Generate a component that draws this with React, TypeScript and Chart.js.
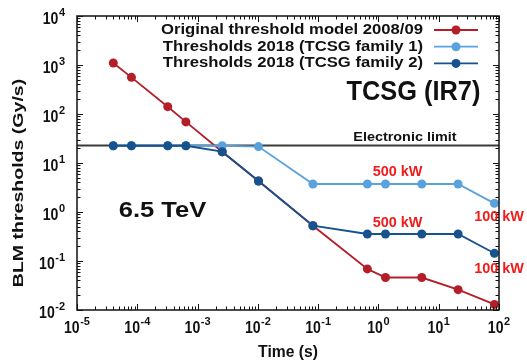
import React, { useEffect, useRef } from "react";
import { Chart, registerables } from "chart.js";

Chart.register(...registerables);

// ---- data ----
const times = [4e-5, 8e-5, 3.2e-4, 6.4e-4, 2.56e-3, 1.024e-2, 8.192e-2, 0.655, 1.31, 5.24, 20.97, 83.89];
const original2008 = [1100, 560, 141, 69, 17, 4.3, 0.525, 0.069, 0.046, 0.046, 0.026, 0.013];
const family1 = [22.5, 22.5, 22.5, 22.5, 22.5, 21.6, 3.73, 3.73, 3.73, 3.73, 3.73, 1.5];
const family2 = [22.5, 22.5, 22.5, 22.5, 17, 4.3, 0.525, 0.356, 0.356, 0.356, 0.356, 0.1435];
const electronicLimit = 22.8;
const limitSpan = [1e-5, 1e2];
const xTickExponents = [-5, -4, -3, -2, -1, 0, 1, 2];
const yTickExponents = [-2, -1, 0, 1, 2, 3, 4];
const seriesLabels = [
  "Original threshold model 2008/09",
  "Thresholds 2018 (TCSG family 1)",
  "Thresholds 2018 (TCSG family 2)",
];
const powerLabels = ["500 kW", "500 kW", "100 kW", "100 kW"];
const powerLabelX = [2.07, 2.07, 100, 100];
const powerLabelY = [6.64, 0.597, 0.773, 0.0687];

const RED = "#b41e28";
const LIGHT = "#5aa2dc";
const DARK = "#15528e";
const FONT = "'Liberation Sans', Arial, Helvetica, sans-serif";

function txt(
  ctx: CanvasRenderingContext2D,
  text: string,
  x: number,
  y: number,
  size: number,
  sx: number,
  align: CanvasTextAlign,
  baseline: CanvasTextBaseline,
  color: string,
  rot = 0
) {
  ctx.save();
  ctx.translate(x, y);
  if (rot) ctx.rotate(rot);
  ctx.scale(sx, 1);
  ctx.font = `bold ${size}px ${FONT}`;
  ctx.textAlign = align;
  ctx.textBaseline = baseline;
  ctx.fillStyle = color;
  ctx.fillText(text, 0, 0);
  ctx.restore();
}

function pow10Label(
  ctx: CanvasRenderingContext2D,
  exp: number,
  x: number,
  baseY: number,
  mode: "center" | "right"
) {
  const base = "10";
  const sup = String(exp);
  const bs = 16, bsx = 0.88, ss = 11;
  ctx.save();
  ctx.font = `bold ${bs}px ${FONT}`;
  const bw = ctx.measureText(base).width * bsx;
  ctx.font = `bold ${ss}px ${FONT}`;
  const sw = ctx.measureText(sup).width;
  ctx.restore();
  const total = bw + sw + 0.5;
  const start = mode === "center" ? x - total / 2 : x - total;
  txt(ctx, base, start, baseY, bs, bsx, "left", "alphabetic", "#111");
  txt(ctx, sup, start + bw + 0.5, baseY - 8.5, ss, 1, "left", "alphabetic", "#111");
}

export default function App() {
  const ref = useRef<HTMLCanvasElement>(null);

  useEffect(() => {
    const canvas = ref.current!;
    const overlay = {
      id: "overlay",
      afterDraw(chart: any) {
        const ctx: CanvasRenderingContext2D = chart.ctx;
        const xs = chart.scales.x;
        const ys = chart.scales.y;
        const a = chart.chartArea;
        // frame
        ctx.save();
        ctx.strokeStyle = "#111";
        ctx.lineWidth = 1.5;
        ctx.strokeRect(a.left, a.top, a.right - a.left, a.bottom - a.top);
        ctx.lineWidth = 1;
        // ticks
        const tick = (v: number, isX: boolean, len: number) => {
          if (isX) {
            const p = Math.round(xs.getPixelForValue(v)) + 0.5;
            ctx.beginPath();
            ctx.moveTo(p, a.bottom); ctx.lineTo(p, a.bottom - len);
            ctx.moveTo(p, a.top); ctx.lineTo(p, a.top + len);
            ctx.stroke();
          } else {
            const p = Math.round(ys.getPixelForValue(v)) + 0.5;
            ctx.beginPath();
            ctx.moveTo(a.left, p); ctx.lineTo(a.left + len, p);
            ctx.moveTo(a.right, p); ctx.lineTo(a.right - len, p);
            ctx.stroke();
          }
        };
        for (let i = 0; i < xTickExponents.length; i++) {
          const e = xTickExponents[i];
          tick(Math.pow(10, e), true, 6);
          if (i < xTickExponents.length - 1)
            for (let m = 2; m <= 9; m++) tick(m * Math.pow(10, e), true, 3.5);
        }
        for (let i = 0; i < yTickExponents.length; i++) {
          const e = yTickExponents[i];
          tick(Math.pow(10, e), false, 6);
          if (i < yTickExponents.length - 1)
            for (let m = 2; m <= 9; m++) tick(m * Math.pow(10, e), false, 3.5);
        }
        ctx.restore();

        // tick labels
        for (const e of xTickExponents) {
          const px = xs.getPixelForValue(Math.pow(10, e));
          pow10Label(ctx, e, px, a.bottom + 23, "center");
        }
        for (const e of yTickExponents) {
          const py = ys.getPixelForValue(Math.pow(10, e));
          pow10Label(ctx, e, a.left - 12, py + 8, "right");
        }

        // axis titles
        txt(ctx, "Time (s)", (a.left + a.right) / 2, 353, 16, 0.98, "center", "middle", "#111");
        txt(ctx, "BLM thresholds (Gy/s)", 19, 183, 15.5, 1.26, "center", "middle", "#111", -Math.PI / 2);

        // annotations
        txt(ctx, "Electronic limit", xs.getPixelForValue(2.75), ys.getPixelForValue(32.8), 12, 1.2, "center", "middle", "#111");
        txt(ctx, "TCSG (IR7)", xs.getPixelForValue(3.81), ys.getPixelForValue(193), 27, 0.94, "center", "alphabetic", "#111");
        txt(ctx, "6.5 TeV", xs.getPixelForValue(2.62e-4), ys.getPixelForValue(1.05), 22, 1.16, "center", "middle", "#111");
        for (let i = 0; i < powerLabels.length; i++) {
          txt(ctx, powerLabels[i], xs.getPixelForValue(powerLabelX[i]), ys.getPixelForValue(powerLabelY[i]), 14, 1.03, "center", "middle", "#f21b1b");
        }

        // legend
        const colors = [RED, LIGHT, DARK];
        for (let i = 0; i < seriesLabels.length; i++) {
          const y = a.top + 14 + i * 16.7;
          txt(ctx, seriesLabels[i], a.right - 76, y, 14, 1.19, "right", "middle", "#111");
          ctx.save();
          ctx.strokeStyle = colors[i];
          ctx.lineWidth = 1.8;
          ctx.beginPath();
          ctx.moveTo(a.right - 65, y);
          ctx.lineTo(a.right - 21, y);
          ctx.stroke();
          ctx.fillStyle = colors[i];
          ctx.beginPath();
          ctx.arc(a.right - 43, y, 4.5, 0, Math.PI * 2);
          ctx.fill();
          ctx.restore();
        }
      },
    };

    const mk = (vals: number[]) => times.map((t, i) => ({ x: t, y: vals[i] }));

    const chart = new Chart(canvas, {
      type: "line",
      data: {
        datasets: [
          {
            label: seriesLabels[2],
            data: mk(family2),
            borderColor: DARK,
            backgroundColor: DARK,
            borderWidth: 1.8,
            pointRadius: 4.5,
            pointBorderWidth: 0,
            order: 0,
          },
          {
            label: seriesLabels[1],
            data: mk(family1),
            borderColor: LIGHT,
            backgroundColor: LIGHT,
            borderWidth: 1.8,
            pointRadius: 4.5,
            pointBorderWidth: 0,
            order: 1,
          },
          {
            label: seriesLabels[0],
            data: mk(original2008),
            borderColor: RED,
            backgroundColor: RED,
            borderWidth: 1.8,
            pointRadius: 4.5,
            pointBorderWidth: 0,
            order: 2,
          },
          {
            label: "Electronic limit",
            data: limitSpan.map((t) => ({ x: t, y: electronicLimit })),
            borderColor: "#3a3a3a",
            borderWidth: 2,
            pointRadius: 0,
            order: 3,
          },
        ],
      },
      options: {
        animation: false,
        responsive: true,
        maintainAspectRatio: false,
        layout: { padding: { left: 77, top: 16, right: 28, bottom: 51 } },
        plugins: { legend: { display: false }, tooltip: { enabled: false } },
        elements: { line: { tension: 0 } },
        scales: {
          x: { type: "logarithmic", min: 1e-5, max: 1e2, display: false },
          y: { type: "logarithmic", min: 1e-2, max: 1e4, display: false },
        },
      },
      plugins: [overlay],
    } as any);
    return () => chart.destroy();
  }, []);

  return (
    <div style={{ position: "fixed", left: 0, top: 0, width: 527, height: 361, background: "#fff" }}>
      <canvas ref={ref} />
    </div>
  );
}
